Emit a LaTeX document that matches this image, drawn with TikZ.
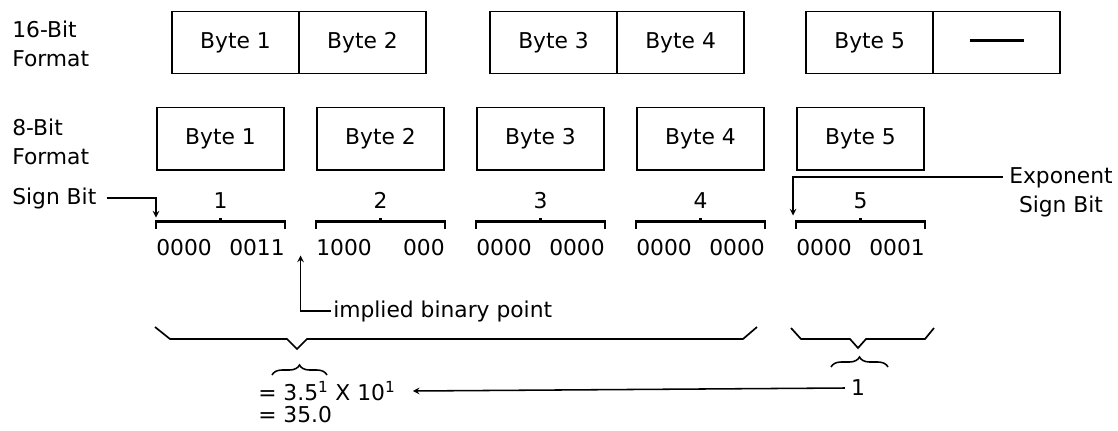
\documentclass[tikz,border=0pt]{standalone}
\usepackage{fontspec}
\setmainfont{DejaVu Sans}
\usepackage{tikz}
\usetikzlibrary{arrows,calc,decorations.pathreplacing,positioning}
\tikzset{%
  arrow/.style={line width=1.1pt,-stealth},
  bytebox/.style={draw,line width=1.4pt,minimum width=3.175cm,minimum height=1.55cm,inner sep=0pt},
  bracket/.style={line width=1.6pt},
  flatbrace/.style={line width=1.2pt},
  curlybrace/.style={line width=1.1pt,decorate,decoration={brace,amplitude=0.25cm}},
  caption/.style={align=left,anchor=west,inner sep=0pt},
  plain/.style={anchor=west,inner sep=0pt},
}

\begin{document}
\begin{tikzpicture}[x=0.025cm,y=-0.025cm,node distance=0.775cm,font=\fontsize{15.5}{20.5}\selectfont]
  \useasboundingbox (0,0) rectangle (1118,430);

  % 16-bit format
  \node[caption] (fmt16) at (12,44) {16-Bit\\Format};
  \node[bytebox] (h1) at (235.5,42.5) {Byte 1};
  \node[bytebox,right=-1.4pt of h1] (h2) {Byte 2};
  \node[bytebox,right=1.55cm of h2] (h3) {Byte 3};
  \node[bytebox,right=-1.4pt of h3] (h4) {Byte 4};
  \node[bytebox,right=1.5cm of h4] (h5) {Byte 5};
  \node[bytebox,right=-1.4pt of h5] (h6) {\rule[0.3ex]{1.35cm}{2pt}};

  % 8-bit format
  \node[caption] (fmt8) at (12,142) {8-Bit\\Format};
  \node[bytebox] (e1) at (220.5,138.5) {Byte 1};
  \foreach \i [count=\j] in {2,...,5}
    \node[bytebox,right=of e\j] (e\i) {Byte \i};

  % brackets, byte numbers and bit patterns
  \foreach \i/\lo/\hi in {1/0000/0011,2/1000/000,3/0000/0000,4/0000/0000,5/0000/0001} {
    \node (n\i) at ([yshift=-0.75cm]e\i.south) {\i};
    \draw[bracket] ([yshift=-1.45cm]e\i.south west) -- ([yshift=-1.275cm]e\i.south west)
      -- ([yshift=-1.275cm]e\i.south east) -- ([yshift=-1.45cm]e\i.south east);
    \draw[bracket] ([yshift=-1.275cm]e\i.south) -- ([yshift=-1.175cm]e\i.south);
    \node[plain] (lo\i) at ([yshift=-1.925cm]e\i.south west) {\lo};
    \node[plain,anchor=east] (hi\i) at ([yshift=-1.925cm]e\i.south east) {\hi};
  }

  % sign bits
  \node[plain] (sb) at (12,198) {Sign Bit};
  \draw[arrow] ([xshift=0.25cm]sb.east) -| ([yshift=-1.175cm]e1.south west);
  \node[align=center,inner sep=0pt] (esb) at (1061,192) {Exponent\\Sign Bit};
  \draw[arrow] ([yshift=0.375cm,xshift=-0.15cm]esb.west) -| ([xshift=-0.075cm,yshift=-1.125cm]e5.south west);

  % implied binary point
  \node[plain] (ibp) at (333,311) {implied binary point};
  \coordinate (bp) at ($(e1.south east)!0.5!(e2.south west)+(0,85)$);
  \draw[arrow] ([xshift=-0.05cm]ibp.west) -| (bp);

  % flat braces
  \draw[flatbrace] (155,327) -- (170,339) -- (287,339) -- (297,349) -- (307,339) -- (743,339) -- (757,327);
  \draw[flatbrace] (791,328) -- (801,339) -- (850,339) -- (858,348) -- (866,339) -- (925,339) -- (934,328);

  % result
  \draw[curlybrace] (272,375) -- (327,375);
  \draw[curlybrace] (831,367) -- (888,367);
  \node[plain] (mant) at (258,391) {= 3.5\textsuperscript{1} X 10\textsuperscript{1}};
  \node[plain] (res) at (258,415) {= 35.0};
  \node[inner sep=0pt] (one) at (858,388) {1};
  \draw[arrow] ([xshift=-0.15cm]one.west) -- ([xshift=0.425cm]mant.east);
\end{tikzpicture}
\end{document}
